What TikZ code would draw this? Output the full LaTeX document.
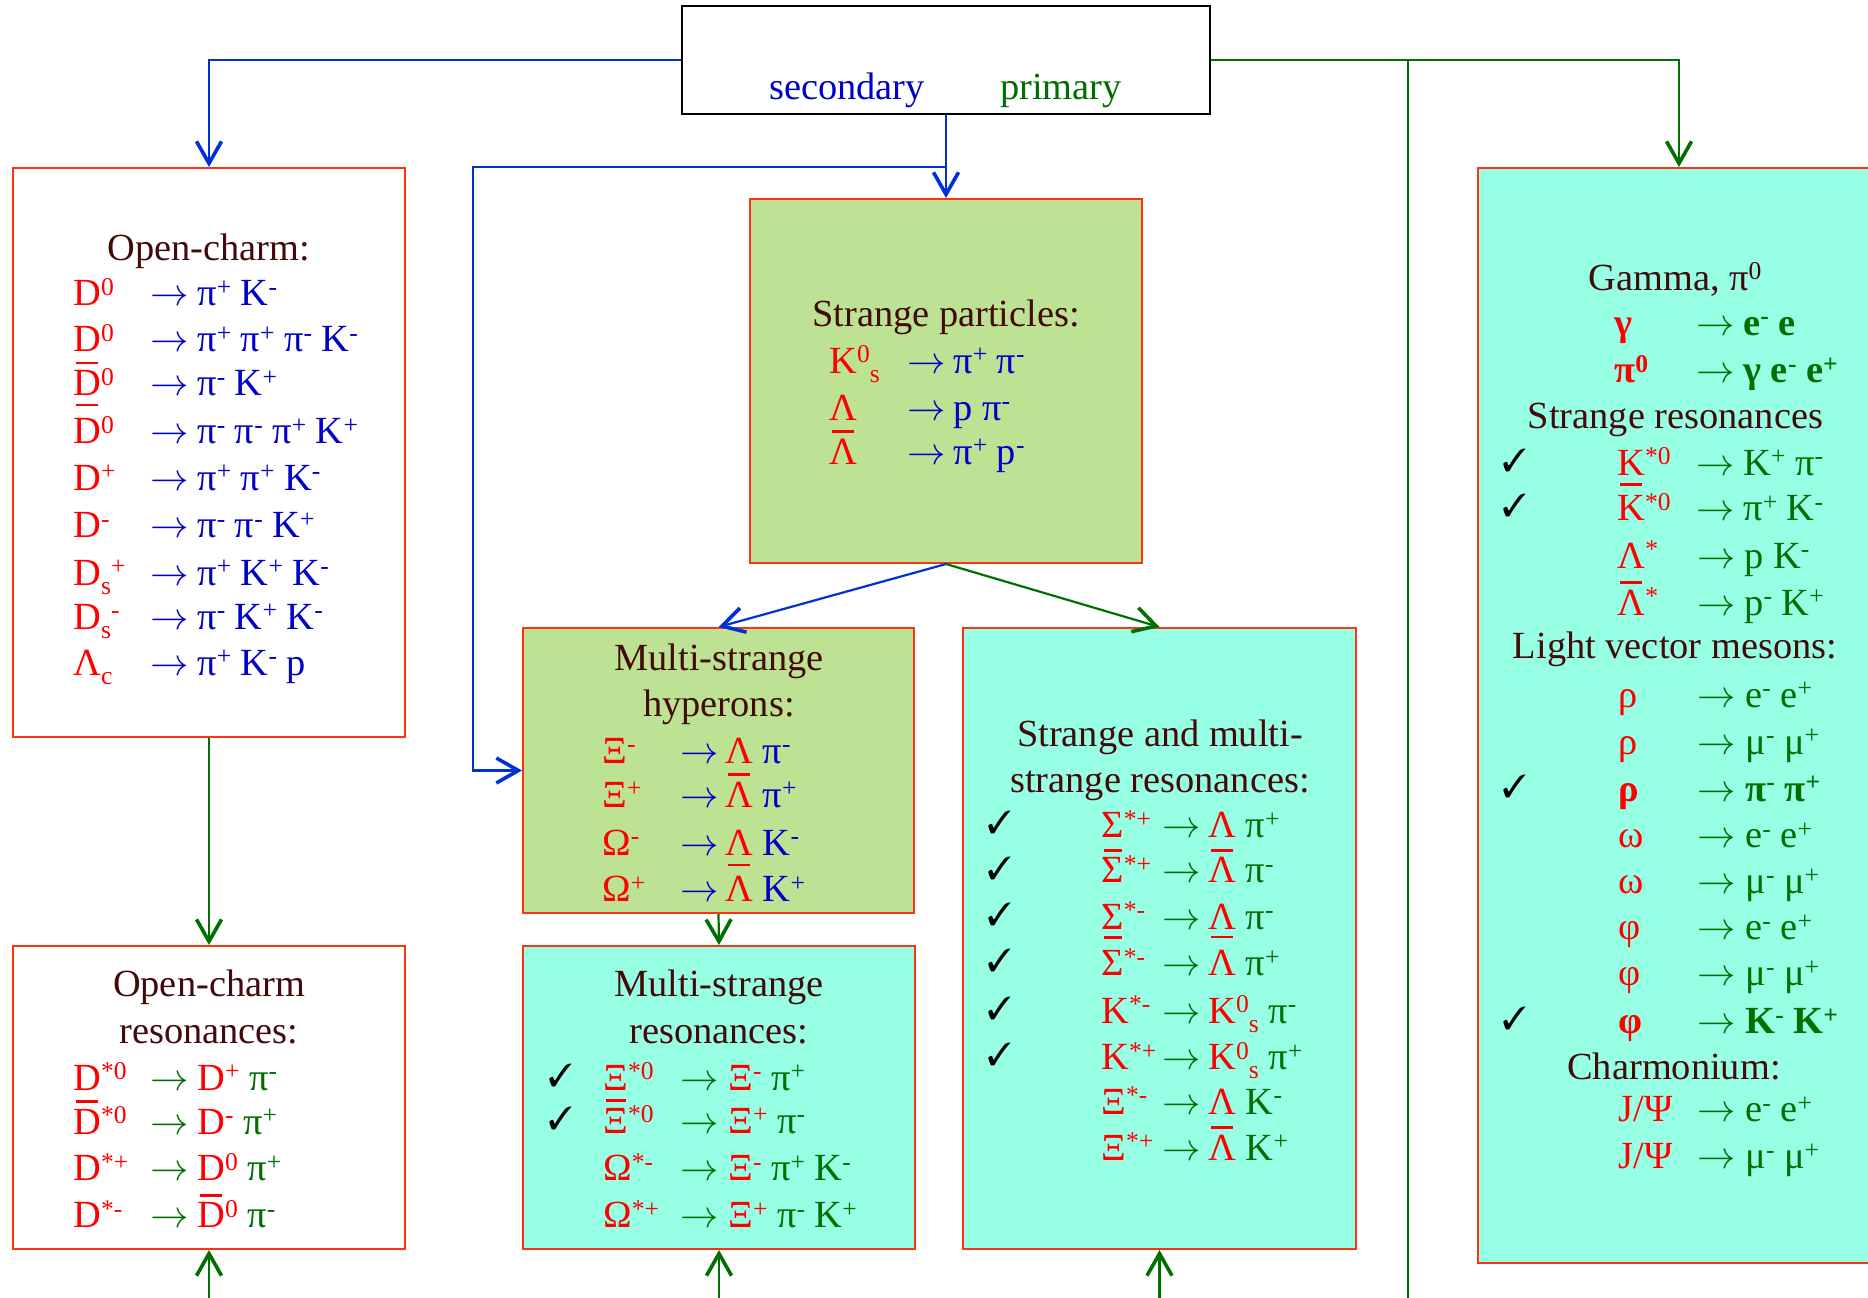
\documentclass[tikz,border=0pt]{standalone}
\usepackage{fix-cm}
\usepackage{fontspec}
\setmainfont{Liberation Serif}
\usepackage{pifont}
\usetikzlibrary{arrows.meta,fit}

\definecolor{bx}{HTML}{FF3311}
\definecolor{lg}{HTML}{BDE294}
\definecolor{aq}{HTML}{96FFE4}
\definecolor{ttlc}{HTML}{430A0A}
\definecolor{pr}{HTML}{FF0000}
\definecolor{bl}{HTML}{0000C8}
\definecolor{gn}{HTML}{006E00}
\definecolor{ln}{HTML}{0030D8}
\definecolor{gl}{HTML}{007000}

% raised / lowered indices in the style of the slide
\newcommand\up[1]{\raisebox{0.27em}{\fontsize{12.8}{12}\selectfont #1}}
\newcommand\dn[1]{\raisebox{-0.24em}{\fontsize{12.8}{12}\selectfont #1}}
% antiparticle bar; optional gap above the letter
\newcommand\ob[2][3pt]{\leavevmode\setbox0\hbox{#2}%
  \rlap{\kern0.1\wd0\raisebox{\dimexpr\ht0+#1\relax}{\rule{0.8\wd0}{1.3pt}}}\box0}
\newcommand\cR[1]{\textcolor{pr}{#1}}
\newcommand\cB[1]{\textcolor{bl}{#1}}
\newcommand\cG[1]{\textcolor{gn}{#1}}
\newcommand\decarr{$\rightarrow$}
% one decay line: name, baseline, x of particle, x of arrow, x of products,
% particle, arrow colour, products
\newcommand\drow[8]{%
  \node[txt] (#1p) at (#3,#2) {#6};
  \node[txt,text=#7] (#1a) at (#4,#2) {\decarr};
  \node[txt] (#1r) at (#5,#2) {#8};}
\newcommand\chk[3]{\node[ckmark] (#1) at (#2,#3) {\ding{51}};}

\begin{document}
\begin{tikzpicture}[x=0.5pt,y=-0.5pt,
  >={Straight Barb[length=11pt,width=12.5pt,line width=1.8pt]},
  txt/.style={inner sep=0pt,anchor=base west,font=\fontsize{19.2}{23}\selectfont},
  ttl/.style={inner sep=0pt,anchor=base,text=ttlc,font=\fontsize{19.2}{23}\selectfont},
  ckmark/.style={inner sep=0pt,anchor=base west,font=\fontsize{16}{16}\selectfont},
  wbox/.style={draw=bx,line width=1pt,fill=white,inner sep=0pt},
  gbox/.style={wbox,fill=lg},
  abox/.style={wbox,fill=aq},
  bline/.style={draw=ln,line width=1.1pt},
  gline/.style={draw=gl,line width=1.1pt}]

\useasboundingbox (0,0) rectangle (1868,1297);
\clip (0,0) rectangle (1868,1297);

% ---------- boxes ----------
\node[draw=black,line width=1.3pt,fill=white,inner sep=0pt,fit={(682,6)(1210,114)}] (top) {};
\node[wbox,fit={(13,168)(405,737)}] (oc) {};
\node[wbox,fit={(13,946)(405,1249)}] (ocr) {};
\node[gbox,fit={(750,199)(1142,563)}] (sp) {};
\node[gbox,fit={(523,628)(914,913)}] (hyp) {};
\node[abox,fit={(523,946)(915,1249)}] (msr) {};
\node[abox,fit={(963,628)(1356,1249)}] (smr) {};
\node[abox,fit={(1478,168)(1880,1263)}] (rb) {};

% ---------- top box ----------
\node[txt,anchor=base,text=bl] (sec) at (847,99) {secondary};
\node[txt,anchor=base,text=gn] (pri) at (1061,99) {primary};

% ---------- open charm ----------
\node[ttl] (octl) at (209,260.4) {Open-charm:};
\drow{oc1}{305.6}{73}{150}{197}{\cR{D\up{0}}}{bl}{\cB{π\up{+} K\up{-}}}
\drow{oc2}{351.6}{73}{150}{197}{\cR{D\up{0}}}{bl}{\cB{π\up{+} π\up{+} π\up{-} K\up{-}}}
\drow{oc3}{395.6}{73}{150}{197}{\cR{\ob{D}\up{0}}}{bl}{\cB{π\up{-} K\up{+}}}
\drow{oc4}{443.5}{73}{150}{197}{\cR{\ob[6pt]{D}\up{0}}}{bl}{\cB{π\up{-} π\up{-} π\up{+} K\up{+}}}
\drow{oc5}{490.3}{73}{150}{197}{\cR{D\up{+}}}{bl}{\cB{π\up{+} π\up{+} K\up{-}}}
\drow{oc6}{537.4}{73}{150}{197}{\cR{D\up{-}}}{bl}{\cB{π\up{-} π\up{-} K\up{+}}}
\drow{oc7}{585.3}{73}{150}{197}{\cR{D\dn{s}\up{+}}}{bl}{\cB{π\up{+} K\up{+} K\up{-}}}
\drow{oc8}{629.3}{73}{150}{197}{\cR{D\dn{s}\up{-}}}{bl}{\cB{π\up{-} K\up{+} K\up{-}}}
\drow{oc9}{675.3}{73}{150}{197}{\cR{Λ\dn{c}}}{bl}{\cB{π\up{+} K\up{-} p}}

% ---------- open charm resonances ----------
\node[ttl] (ocrt1) at (209,996.7) {Open-charm};
\node[ttl] (ocrt2) at (209,1043) {resonances:};
\drow{ocr1}{1090}{73}{150}{197}{\cR{D\up{*0}}}{gn}{\cR{D\up{+}} \cG{π\up{-}}}
\drow{ocr2}{1134}{73}{150}{197}{\cR{\ob{D}\up{*0}}}{gn}{\cR{D\up{-}} \cG{π\up{+}}}
\drow{ocr3}{1180.7}{73}{150}{197}{\cR{D\up{*+}}}{gn}{\cR{D\up{0}} \cG{π\up{+}}}
\drow{ocr4}{1227.7}{73}{150}{197}{\cR{D\up{*-}}}{gn}{\cR{\ob{D}\up{0}} \cG{π\up{-}}}

% ---------- strange particles ----------
\node[ttl] (sptl) at (946,326.7) {Strange particles:};
\drow{sp1}{373.3}{829}{907}{953}{\cR{K\up{0}\dn{s}}}{bl}{\cB{π\up{+} π\up{-}}}
\drow{sp2}{420}{829}{907}{953}{\cR{Λ}}{bl}{\cB{p π\up{-}}}
\drow{sp3}{464}{829}{907}{953}{\cR{\ob{Λ}}}{bl}{\cB{π\up{+} p\up{-}}}

% ---------- multi-strange hyperons ----------
\node[ttl] (hyt1) at (719,670) {Multi-strange};
\node[ttl] (hyt2) at (719,716.7) {hyperons:};
\drow{hy1}{763.3}{602}{680}{725}{\cR{Ξ\up{-}}}{bl}{\cR{Λ} \cB{π\up{-}}}
\drow{hy2}{807.3}{602}{680}{725}{\cR{Ξ\up{+}}}{bl}{\cR{\ob{Λ}} \cB{π\up{+}}}
\drow{hy3}{855}{602}{680}{725}{\cR{Ω\up{-}}}{bl}{\cR{Λ} \cB{K\up{-}}}
\drow{hy4}{901.7}{602}{680}{725}{\cR{Ω\up{+}}}{bl}{\cR{\ob[5pt]{Λ}} \cB{K\up{+}}}

% ---------- multi-strange resonances ----------
\node[ttl] (msrt1) at (719,996.7) {Multi-strange};
\node[ttl] (msrt2) at (719,1043) {resonances:};
\chk{msc1}{548}{1086}
\chk{msc2}{548}{1129}
\drow{ms1}{1090}{603}{680}{728}{\cR{Ξ\up{*0}}}{gn}{\cR{Ξ\up{-}} \cG{π\up{+}}}
\drow{ms2}{1133}{603}{680}{728}{\cR{\ob{Ξ}\up{*0}}}{gn}{\cR{Ξ\up{+}} \cG{π\up{-}}}
\drow{ms3}{1180.7}{603}{680}{728}{\cR{Ω\up{*-}}}{gn}{\cR{Ξ\up{-}} \cG{π\up{+} K\up{-}}}
\drow{ms4}{1227.7}{603}{680}{728}{\cR{Ω\up{*+}}}{gn}{\cR{Ξ\up{+}} \cG{π\up{-} K\up{+}}}

% ---------- strange and multi-strange resonances ----------
\node[ttl] (smt1) at (1160,746.4) {Strange and multi-};
\node[ttl] (smt2) at (1160,792.9) {strange resonances:};
\chk{smc1}{987}{833.5}
\chk{smc2}{987}{879}
\chk{smc3}{987}{925.3}
\chk{smc4}{987}{971.7}
\chk{smc5}{987}{1019.2}
\chk{smc6}{987}{1065.6}
\drow{sm1}{837.5}{1101}{1162}{1208}{\cR{Σ\up{*+}}}{gn}{\cR{Λ} \cG{π\up{+}}}
\drow{sm2}{882.9}{1101}{1162}{1208}{\cR{\ob{Σ}\up{*+}}}{gn}{\cR{\ob{Λ}} \cG{π\up{-}}}
\drow{sm3}{929.3}{1101}{1162}{1208}{\cR{Σ\up{*-}}}{gn}{\cR{Λ} \cG{π\up{-}}}
\drow{sm4}{975.7}{1101}{1162}{1208}{\cR{\ob[6pt]{Σ}\up{*-}}}{gn}{\cR{\ob[6pt]{Λ}} \cG{π\up{+}}}
\drow{sm5}{1023.2}{1101}{1162}{1208}{\cR{K\up{*-}}}{gn}{\cR{K\up{0}\dn{s}} \cG{π\up{-}}}
\drow{sm6}{1069.6}{1101}{1162}{1208}{\cR{K\up{*+}}}{gn}{\cR{K\up{0}\dn{s}} \cG{π\up{+}}}
\drow{sm7}{1114.3}{1101}{1162}{1208}{\cR{Ξ\up{*-}}}{gn}{\cR{Λ} \cG{K\up{-}}}
\drow{sm8}{1160}{1101}{1162}{1208}{\cR{Ξ\up{*+}}}{gn}{\cR{\ob{Λ}} \cG{K\up{+}}}

% ---------- primary: gamma, resonances, vector mesons, charmonium ----------
\node[ttl] (rbt1) at (1675,290) {Gamma, π\up{0}};
\drow{rb1}{335}{1614}{1696}{1743}{\cR{\bfseries γ}}{gn}{\cG{\bfseries e\up{-} e}}
\drow{rb2}{382.7}{1614}{1696}{1743}{\cR{\bfseries π\up{0}}}{gn}{\cG{\bfseries γ e\up{-} e\up{+}}}
\node[ttl] (rbt2) at (1675.5,428.3) {Strange resonances};
\chk{rbc1}{1502}{471}
\chk{rbc2}{1502}{516.7}
\drow{rb3}{475}{1617}{1696}{1743}{\cR{K\up{*0}}}{gn}{\cG{K\up{+} π\up{-}}}
\drow{rb4}{520.7}{1617}{1696}{1743}{\cR{\ob[5pt]{K}\up{*0}}}{gn}{\cG{π\up{+} K\up{-}}}
\drow{rb5}{568.3}{1617}{1697}{1744}{\cR{Λ\up{*}}}{gn}{\cG{p K\up{-}}}
\drow{rb6}{615}{1617}{1697}{1744}{\cR{\ob{Λ}\up{*}}}{gn}{\cG{p\up{-} K\up{+}}}
\node[ttl] (rbt3) at (1675,658.9) {Light vector mesons:};
\drow{rb7}{707}{1618}{1697}{1745}{\cR{ρ}}{gn}{\cG{e\up{-} e\up{+}}}
\drow{rb8}{754}{1618}{1697}{1745}{\cR{ρ}}{gn}{\cG{μ\up{-} μ\up{+}}}
\chk{rbc3}{1502}{797.3}
\drow{rb9}{801.3}{1618}{1697}{1745}{\cR{\bfseries ρ}}{gn}{\cG{\bfseries π\up{-} π\up{+}}}
\drow{rb10}{847.4}{1618}{1697}{1745}{\cR{ω}}{gn}{\cG{e\up{-} e\up{+}}}
\drow{rb11}{893.5}{1618}{1697}{1745}{\cR{ω}}{gn}{\cG{μ\up{-} μ\up{+}}}
\drow{rb12}{939.5}{1618}{1697}{1745}{\cR{φ}}{gn}{\cG{e\up{-} e\up{+}}}
\drow{rb13}{985.6}{1618}{1697}{1745}{\cR{φ}}{gn}{\cG{μ\up{-} μ\up{+}}}
\chk{rbc4}{1502}{1029.8}
\drow{rb14}{1033.8}{1618}{1697}{1745}{\cR{\bfseries φ}}{gn}{\cG{\bfseries K\up{-} K\up{+}}}
\node[ttl] (rbt4) at (1674,1079.9) {Charmonium:};
\drow{rb15}{1121.8}{1618}{1697}{1745}{\cR{J/Ψ}}{gn}{\cG{e\up{-} e\up{+}}}
\drow{rb16}{1168.7}{1618}{1697}{1745}{\cR{J/Ψ}}{gn}{\cG{μ\up{-} μ\up{+}}}

% ---------- connectors ----------
\coordinate (bj) at (946,167);
\coordinate (bk) at (473,167);
\draw[bline,->] (top.west) -| (oc.north);
\draw[bline,->] (top.south) -- (sp.north);
\draw[bline,->] (bj) -- (bk) |- (hyp.west);
\draw[bline,->] (sp.south) -- (hyp.north);
\draw[gline,->] (sp.south) -- (smr.north);

\coordinate (gj) at (1408,60);
\coordinate (gb) at (1408,1300);
\draw[gline,->] (top.east) -| (rb.north);
\draw[gline,line width=0.9pt] (gj) -- (gb);

\draw[gline,->] (oc.south) -- (ocr.north);
\draw[gline,->] (hyp.south) -- (msr.north);

\coordinate (u1) at (209,1300);
\coordinate (u2) at (719,1300);
\coordinate (u3) at (1159.5,1300);
\draw[gline,->] (u1) -- (ocr.south);
\draw[gline,->] (u2) -- (msr.south);
\draw[gline,->] (u3) -- (smr.south);
\end{tikzpicture}
\end{document}
